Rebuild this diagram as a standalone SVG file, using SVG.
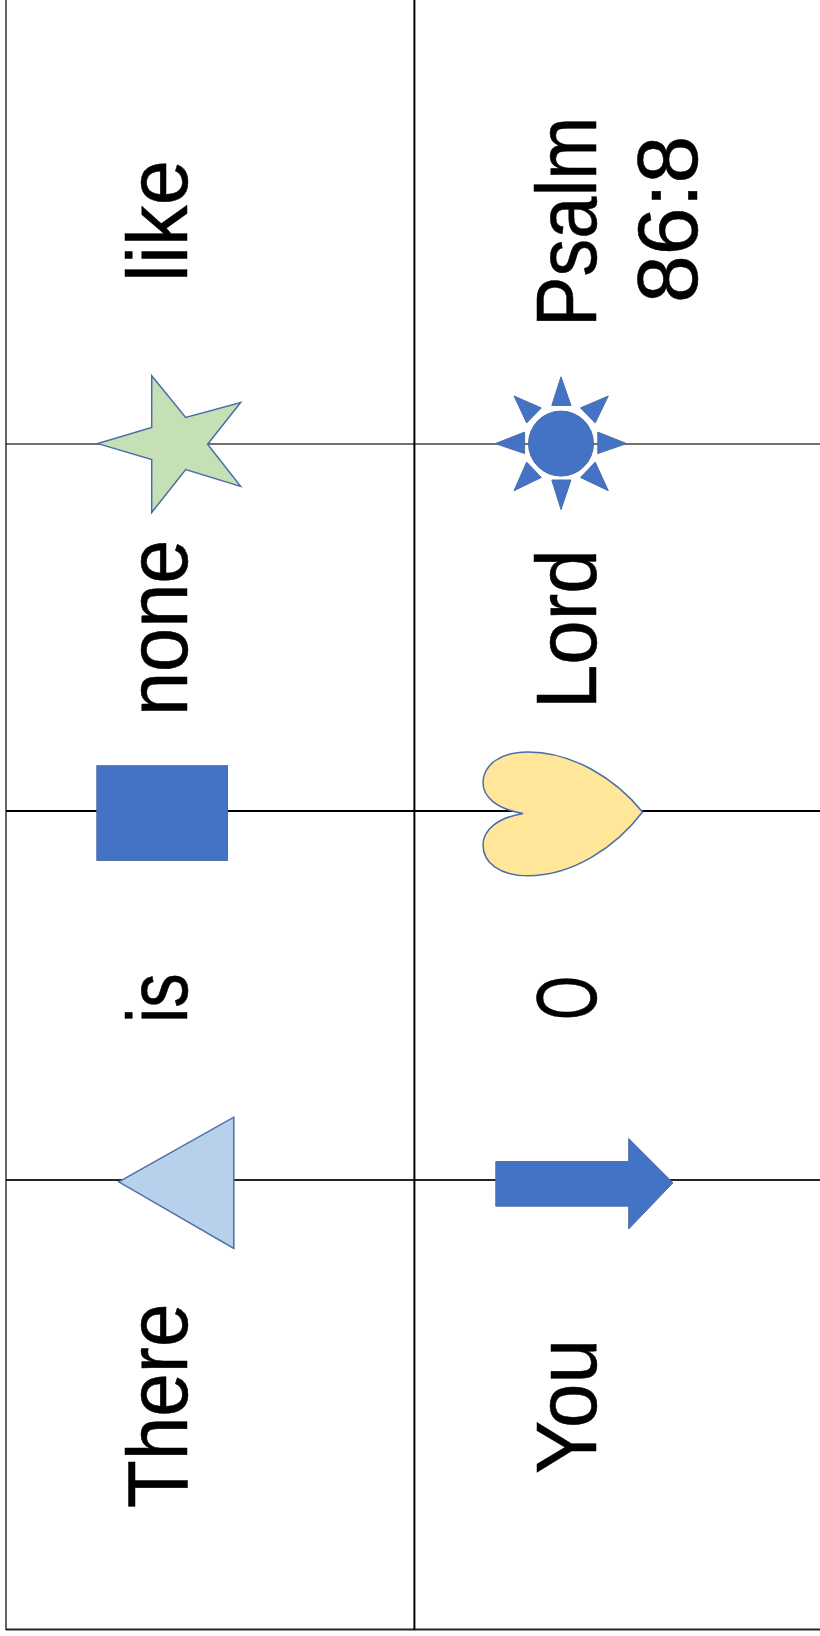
<svg xmlns="http://www.w3.org/2000/svg" width="820" height="1636" viewBox="0 0 820 1636">
<style>
.grid{stroke:#000;stroke-width:2;fill:none}
.t{font-family:"Liberation Sans",Arial,sans-serif;font-size:86px;fill:#000;stroke:#000;stroke-width:0.5}
.o{stroke:#4a6ea8;stroke-width:1.5}
.b{fill:#4472c4;stroke:#4a6ea8;stroke-width:1}
</style>
<rect width="820" height="1636" fill="#fff"/>
<g id="connectors">
<line class="grid" x1="6" y1="0" x2="6" y2="1630" stroke-opacity="0.6"/>
<line class="grid" x1="414.4" y1="0" x2="414.4" y2="1630"/>
<line class="grid" x1="6" y1="444" x2="820" y2="444" stroke-opacity="0.55"/>
<line class="grid" x1="6" y1="811" x2="820" y2="811"/>
<line class="grid" x1="6" y1="1180" x2="820" y2="1180" stroke-opacity="0.85"/>
<line class="grid" x1="6" y1="1629.6" x2="820" y2="1629.6" stroke-opacity="0.85"/>
</g>
<g id="star"><polygon class="o" fill="#c5e0b4" points="151.7,375.7 185.7,417.5 240.6,402.5 207.6,444.3 240.6,486.4 185.7,469.6 151.7,512.5 151.7,459.6 97.8,443.6 151.7,427.5"/></g>
<g id="sun"><circle class="b" cx="561" cy="443.6" r="32.5"/>
<polygon class="b" points="561,376.8 551.8,405.4 571,405.4"/>
<polygon class="b" points="561,509.6 551.8,480 571,480"/>
<polygon class="b" points="495.3,443.6 524.6,432.1 524.6,453.6"/>
<polygon class="b" points="626.6,443.6 597.8,432.1 597.8,453.6"/>
<polygon class="b" points="514,396 541.3,407.9 526.7,422.9"/>
<polygon class="b" points="608.3,396 580.5,407.9 595.2,422.9"/>
<polygon class="b" points="514,490.7 541.3,477.5 526.7,462.1"/>
<polygon class="b" points="608.3,490.7 580.5,477.5 595.2,462.1"/></g>
<g id="square"><rect class="b" x="96.8" y="765.7" width="130.7" height="94.7"/></g>
<g id="heart"><path class="o" fill="#ffe699" d="M642.5,812 C615,778 572,752 528,752 C500,752 483,765 483,783 C483,797 497,809 523,813.5 C497,818 483,830 483,845 C483,863 500,875.7 528,875.7 C572,875.7 615,848 642.5,812 Z"/></g>
<g id="triangle"><polygon class="o" fill="#b7d0ec" points="118.7,1181.8 233.8,1117.2 233.8,1248.4"/></g>
<g id="arrow"><polygon class="b" points="495.8,1161.6 628.7,1161.6 628.7,1138.5 673,1182.8 628.7,1229 628.7,1206.2 495.8,1206.2"/></g>
<g id="t-like"><text class="t" transform="translate(187,282) rotate(-90) scale(0.945,1)">like</text></g>
<g id="t-psalm"><text class="t" transform="translate(596,327) rotate(-90) scale(0.88,1)">Psalm</text></g>
<g id="t-868"><text class="t" transform="translate(697,303) rotate(-90) scale(1,1)">86:8</text></g>
<g id="t-none"><text class="t" transform="translate(187,716) rotate(-90) scale(0.922,1)">none</text></g>
<g id="t-lord"><text class="t" transform="translate(596,709) rotate(-90) scale(0.927,1)">Lord</text></g>
<g id="t-is"><text class="t" transform="translate(187,1023) rotate(-90) scale(0.8,1)">is</text></g>
<g id="t-o"><text class="t" transform="translate(596,1020) rotate(-90) scale(0.66,1)">O</text></g>
<g id="t-there"><text class="t" transform="translate(187,1508) rotate(-90) scale(0.91,1)">There</text></g>
<g id="t-you"><text class="t" transform="translate(596,1474) rotate(-90) scale(0.93,1)">You</text></g>
</svg>
